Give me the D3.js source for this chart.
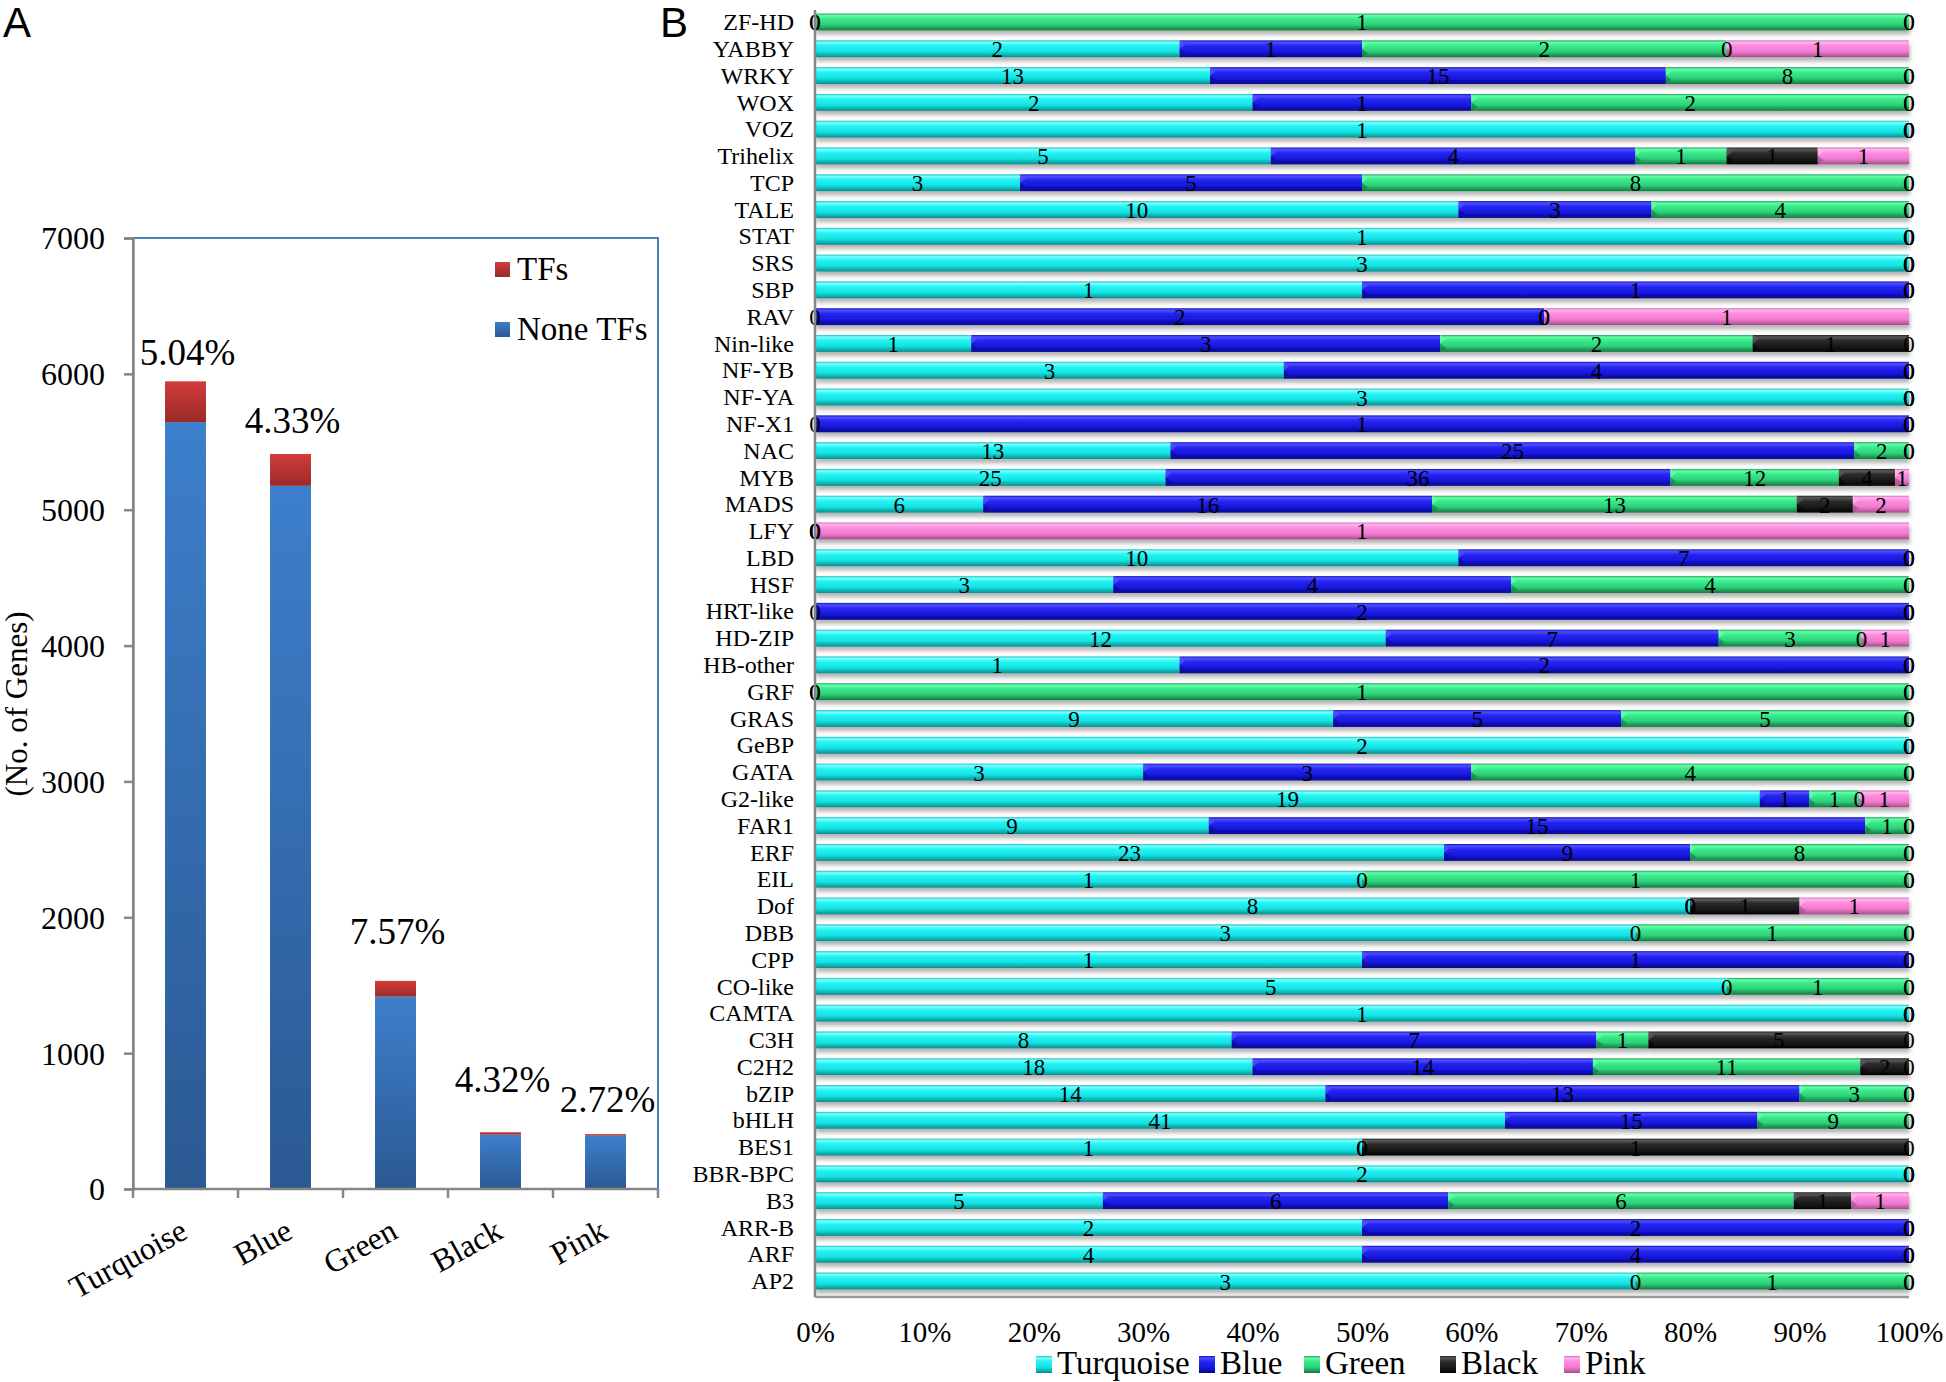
<!DOCTYPE html>
<html>
<head>
<meta charset="utf-8">
<script src="https://cdn.jsdelivr.net/npm/d3@7"></script>
<style>
body { margin: 0; background: #fff; }
svg text { font-family: "Liberation Serif", "DejaVu Serif", "Times New Roman", serif; fill: #000; }
</style>
</head>
<body>
<svg id="fig" width="1946" height="1382"></svg>
<script>
// ---- panel A data
var modules = ["Turquoise", "Blue", "Green", "Black", "Pink"]
var noneTFs = [5645, 5176, 1416, 400, 393]
var tfs = [300, 234, 116, 18, 11]
var pctLabels = ["5.04%", "4.33%", "7.57%", "4.32%", "2.72%"]
var yTicksA = [0, 1000, 2000, 3000, 4000, 5000, 6000, 7000]

// ---- panel B data (top row first)
var families = ["ZF-HD","YABBY","WRKY","WOX","VOZ","Trihelix","TCP","TALE","STAT","SRS","SBP","RAV",
  "Nin-like","NF-YB","NF-YA","NF-X1","NAC","MYB","MADS","LFY","LBD","HSF","HRT-like","HD-ZIP",
  "HB-other","GRF","GRAS","GeBP","GATA","G2-like","FAR1","ERF","EIL","Dof","DBB","CPP","CO-like",
  "CAMTA","C3H","C2H2","bZIP","bHLH","BES1","BBR-BPC","B3","ARR-B","ARF","AP2"]
var turq  = [0,2,13,2,1,5,3,10,1,3,1,0,1,3,3,0,13,25,6,0,10,3,0,12,1,0,9,2,3,19,9,23,1,8,3,1,5,1,8,18,14,41,1,2,5,2,4,3]
var blue  = [0,1,15,1,0,4,5,3,0,0,1,2,3,4,0,1,25,36,16,0,7,4,2,7,2,0,5,0,3,1,15,9,0,0,0,1,0,0,7,14,13,15,0,0,6,2,4,0]
var green = [1,2,8,2,0,1,8,4,0,0,0,0,2,0,0,0,2,12,13,0,0,4,0,3,0,1,5,0,4,1,1,8,1,0,1,0,1,0,1,11,3,9,0,0,6,0,0,1]
var black = [0,0,0,0,0,1,0,0,0,0,0,0,1,0,0,0,0,4,2,0,0,0,0,0,0,0,0,0,0,0,0,0,0,1,0,0,0,0,5,2,0,0,1,0,1,0,0,0]
var pink  = [0,1,0,0,0,1,0,0,0,0,0,1,0,0,0,0,0,1,2,1,0,0,0,1,0,0,0,0,0,1,0,0,0,1,0,0,0,0,0,0,0,0,0,0,1,0,0,0]
var pctTicks = [0, 0.1, 0.2, 0.3, 0.4, 0.5, 0.6, 0.7, 0.8, 0.9, 1]

var serif = "'Liberation Serif', 'DejaVu Serif', 'Times New Roman', serif"
var sans = "'Liberation Sans', Arial, sans-serif"

var svg = d3.select("#fig")
var defs = svg.append("defs")

function vGrad(id, stops) {
  var g = defs.append("linearGradient").attr("id", id)
    .attr("x1", 0).attr("y1", 0).attr("x2", 0).attr("y2", 1)
  stops.forEach(s => g.append("stop").attr("offset", s[0]).attr("stop-color", s[1]))
}

vGrad("gNone", [[0, "#3d7fcc"], [1, "#2b5992"]])
vGrad("gTF", [[0, "#d33c3b"], [1, "#992a29"]])

// bevel-like gradients for panel B
var barCols = {
  Turquoise: ["#18c4c4", "#80fdfd", "#24f3f3", "#14e2e2", "#0cb2b2", "#078a8a"],
  Blue:      ["#1212c4", "#5050ff", "#2626f2", "#1818de", "#0c0cae", "#060688"],
  Green:     ["#22a262", "#62ffa6", "#3aea8a", "#2ed07a", "#1f9c59", "#137a40"],
  Black:     ["#222222", "#5a5a5a", "#2c2c2c", "#1a1a1a", "#0e0e0e", "#000000"],
  Pink:      ["#d070b8", "#ffb4f0", "#ff8ade", "#f07ccf", "#c862a8", "#a04a88"]
}
var offs = [0, 0.12, 0.32, 0.66, 0.86, 1]
modules.forEach(m => vGrad("b" + m, barCols[m].map((c, i) => [offs[i], c])))

var shadow = defs.append("filter").attr("id", "shadow")
  .attr("x", "-2%").attr("y", "-20%").attr("width", "104%").attr("height", "180%")
shadow.append("feDropShadow").attr("dx", 1).attr("dy", 4).attr("stdDeviation", 2)
  .attr("flood-color", "#000").attr("flood-opacity", 0.3)

// ================= panel A =================
var aL = 133, aR = 658, aT = 238, aB = 1189

svg.append("text").text("A").attr("x", 3).attr("y", 37)
  .style("font-family", sans).style("font-size", "42px")

var xA = d3.scaleBand().domain(modules).range([aL, aR]).padding(0)
var yA = d3.scaleLinear().domain([0, 7000]).range([aB, aT])
var barW = xA.bandwidth() * 0.39

// plot area border (blue)
svg.append("rect").attr("x", aL).attr("y", aT).attr("width", aR - aL).attr("height", aB - aT)
  .attr("fill", "none").attr("stroke", "#4a7ebb").attr("stroke-width", 2)

var barsA = svg.append("g")
modules.forEach((m, i) => {
  var cx = xA(m) + xA.bandwidth() / 2
  barsA.append("rect").attr("x", cx - barW / 2).attr("width", barW)
    .attr("y", yA(noneTFs[i])).attr("height", yA(0) - yA(noneTFs[i]))
    .attr("fill", "url(#gNone)")
  barsA.append("rect").attr("x", cx - barW / 2).attr("width", barW)
    .attr("y", yA(noneTFs[i] + tfs[i])).attr("height", yA(noneTFs[i]) - yA(noneTFs[i] + tfs[i]))
    .attr("fill", "url(#gTF)")
})

// percentage labels above bars (manually placed in the original)
var labelLift = [16, 21, 37, 40, 22]
modules.forEach((m, i) => {
  svg.append("text").text(pctLabels[i])
    .attr("x", xA(m) + xA.bandwidth() / 2 + 2)
    .attr("y", yA(noneTFs[i] + tfs[i]) - labelLift[i])
    .attr("text-anchor", "middle").style("font-family", serif).style("font-size", "37px")
})

// y axis
var yAxisA = svg.append("g").attr("transform", "translate(" + aL + ",0)")
  .call(d3.axisLeft(yA).tickValues(yTicksA).tickSize(9).tickPadding(19).tickFormat(d3.format("d")))
yAxisA.select(".domain").attr("stroke", "#868686").attr("stroke-width", 2.5)
yAxisA.selectAll(".tick line").attr("stroke", "#868686").attr("stroke-width", 2.5)
yAxisA.selectAll(".tick text").style("font-size", "32px").style("font-family", serif).attr("dy", "0.34em")

// x axis: ticks between categories
var xAxisA = svg.append("g")
xAxisA.append("line").attr("x1", aL).attr("x2", aR).attr("y1", aB).attr("y2", aB)
  .attr("stroke", "#868686").attr("stroke-width", 2.5)
d3.range(modules.length + 1).forEach(k => {
  var x = aL + k * xA.step()
  xAxisA.append("line").attr("x1", x).attr("x2", x).attr("y1", aB).attr("y2", aB + 9)
    .attr("stroke", "#868686").attr("stroke-width", 2.5)
})
modules.forEach(m => {
  var cx = xA(m) + xA.bandwidth() / 2
  xAxisA.append("text").text(m)
    .attr("transform", "translate(" + (cx + 4) + "," + (aB + 48) + ") rotate(-29)")
    .attr("text-anchor", "end").style("font-family", serif).style("font-size", "32px")
})

// y label
svg.append("text").text("(No. of Genes)")
  .attr("transform", "translate(27,704) rotate(-90)")
  .attr("text-anchor", "middle").style("font-family", serif).style("font-size", "31px")

// legend A
var legA = [["TFs", "url(#gTF)", 280], ["None TFs", "url(#gNone)", 340]]
legA.forEach(l => {
  svg.append("rect").attr("x", 495).attr("y", l[2] - 18).attr("width", 15).attr("height", 15).attr("fill", l[1])
  svg.append("text").text(l[0]).attr("x", 517).attr("y", l[2]).style("font-family", serif).style("font-size", "33px")
})

// ================= panel B =================
var bL = 815, bR = 1909

svg.append("text").text("B").attr("x", 660).attr("y", 37)
  .style("font-family", sans).style("font-size", "42px")

var rowsB = families.map((f, i) => ({
  fam: f, Turquoise: turq[i], Blue: blue[i], Green: green[i], Black: black[i], Pink: pink[i]
}))
var stacked = d3.stack().keys(modules).offset(d3.stackOffsetExpand)(rowsB)

var xB = d3.scaleLinear().domain([0, 1]).range([bL, bR])
var yB = d3.scaleBand().domain(families).range([8.6, 1294.4]).paddingInner(0.37).paddingOuter(0.185)

// bars, one group per row so the shadow sits under the whole bar
var rowG = svg.append("g").selectAll("g.row").data(families).enter().append("g")
  .attr("class", "row").attr("filter", "url(#shadow)")
rowG.each(function (f, i) {
  var g = d3.select(this)
  stacked.forEach(s => {
    var d = s[i]
    if (d[1] - d[0] <= 0) return
    var x0 = xB(d[0]), x1 = xB(d[1]), y0 = yB(f), h = yB.bandwidth()
    g.append("rect").attr("x", x0).attr("width", x1 - x0)
      .attr("y", y0).attr("height", h)
      .attr("fill", "url(#b" + s.key + ")")
    // small chamfer at the segment start, as in the bevelled original
    if (x0 > bL + 1) {
      g.append("path")
        .attr("d", "M" + x0 + "," + y0 + "L" + (x0 + 6) + "," + (y0 + 4) + "L" + x0 + "," + (y0 + h / 2) + "Z")
        .attr("fill", barCols[s.key][1]).attr("opacity", 0.8)
      g.append("path")
        .attr("d", "M" + x0 + "," + (y0 + h) + "L" + (x0 + 6) + "," + (y0 + h - 4) + "L" + x0 + "," + (y0 + h / 2) + "Z")
        .attr("fill", barCols[s.key][5]).attr("opacity", 0.6)
    }
  })
})

// segment value labels (zeros included, as in the original)
var labB = svg.append("g")
stacked.forEach(s => {
  s.forEach((d, i) => {
    var f = families[i]
    labB.append("text").text(d.data[s.key])
      .attr("x", xB((d[0] + d[1]) / 2))
      .attr("y", yB(f) + yB.bandwidth() / 2 + 8.5)
      .attr("text-anchor", "middle").style("font-family", serif).style("font-size", "23px")
  })
})

// axes
var yAxisB = svg.append("g").attr("transform", "translate(" + bL + ",0)")
  .call(d3.axisLeft(yB).tickSize(0).tickPadding(21))
yAxisB.select(".domain").remove()
yAxisB.selectAll(".tick text").style("font-size", "24px").style("font-family", serif).attr("dy", "0.34em")
svg.append("line").attr("x1", bL).attr("x2", bL).attr("y1", 10).attr("y2", 1297)
  .attr("stroke", "#868686").attr("stroke-width", 2.5)
svg.append("line").attr("x1", bL).attr("x2", bR).attr("y1", 1297).attr("y2", 1297)
  .attr("stroke", "#9a9a9a").attr("stroke-width", 2.5)

var xAxisB = svg.append("g").attr("transform", "translate(0,1297)")
  .call(d3.axisBottom(xB).tickValues(pctTicks).tickSize(0).tickPadding(24).tickFormat(d3.format(".0%")))
xAxisB.select(".domain").remove()
xAxisB.selectAll(".tick text").style("font-size", "29px").style("font-family", serif)

// legend B
var legX = [1036, 1199, 1304, 1440, 1564]
modules.forEach((m, i) => {
  svg.append("rect").attr("x", legX[i]).attr("y", 1356).attr("width", 16).attr("height", 17)
    .attr("fill", "url(#b" + m + ")")
  svg.append("text").text(m).attr("x", legX[i] + 21).attr("y", 1374)
    .style("font-family", serif).style("font-size", "33px")
})
</script>
</body>
</html>
